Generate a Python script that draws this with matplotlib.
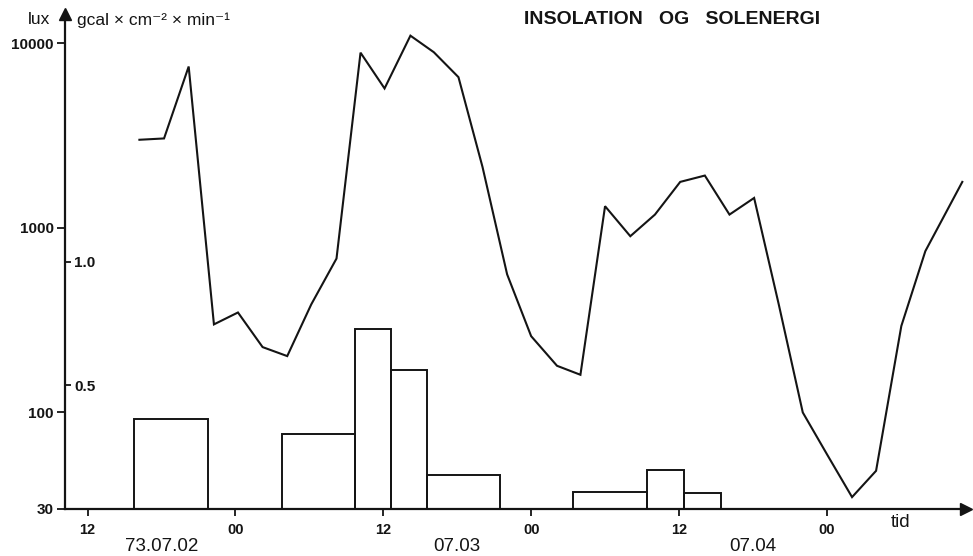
import matplotlib.pyplot as plt

# hours counted from 73.07.02 00:00
hours = [16.2, 18.2, 20.2, 22.25, 24.2, 26.2, 28.2, 30.15, 32.2, 34.15, 36.1,
         38.2, 40.1, 42.1, 44.05, 46.05, 48, 50.1, 52, 54, 56.05, 58.05, 60.1,
         62.1, 64.1, 66.1, 68.1, 70.05, 72.05, 74.05, 76, 78.05, 80, 83]
lux = [3000, 3050, 7480, 300, 348, 226, 202, 385, 682, 8890, 5690, 10990,
       8940, 6550, 2140, 560, 259, 179, 160, 1310, 901, 1180, 1774, 1920,
       1180, 1452, 385, 100, 58.8, 34.8, 48.3, 294, 748, 1774]

# radiation bars (gcal x cm-2 x min-1)
bar_start = [15.75, 27.75, 33.7, 36.6, 39.55, 51.4, 57.4, 60.4]
bar_end = [21.8, 33.7, 36.6, 39.55, 45.5, 57.4, 60.4, 63.4]
bar_val = [0.363, 0.302, 0.728, 0.563, 0.138, 0.068, 0.157, 0.064]

xtick_pos = [12, 24, 36, 48, 60, 72]
xtick_lab = ["12", "00", "12", "00", "12", "00"]
ytick_lux = [30, 100, 1000, 10000]
ytick_cal = [0.5, 1.0]
dates = [(18, "73.07.02"), (42, "07.03"), (66, "07.04")]

plt.rcParams["font.family"] = ["Liberation Sans", "DejaVu Sans"]
ink = "#141414"

W, H = 973, 556
fig = plt.figure(figsize=(W / 100, H / 100), dpi=100)
ax = fig.add_axes([65 / W, 47 / H, (966 - 65) / W, (509 - 14) / H])

ax.plot(hours, lux, color=ink, lw=1.5, solid_joinstyle="miter")
ax.set_yscale("log")
ax.set_xlim(10.16, 83.3)
ax.set_ylim(30, 14400)
ax.set_yticks(ytick_lux)
ax.set_yticklabels([str(v) for v in ytick_lux], fontweight="bold", fontsize=11)
ax.yaxis.set_minor_locator(plt.NullLocator())
ax.set_xticks(xtick_pos)
ax.set_xticklabels(xtick_lab, fontweight="bold", fontsize=10.5)
ax.tick_params(axis="y", direction="out", length=6, width=1.3, pad=2, colors=ink)
ax.tick_params(axis="x", direction="out", length=5, width=1.3, pad=5, colors=ink)
for s in ("top", "right"):
    ax.spines[s].set_visible(False)
for s in ("left", "bottom"):
    ax.spines[s].set_linewidth(1.6)
    ax.spines[s].set_color(ink)

# arrow heads on the axes
ax.plot(1, 0, marker=">", ms=8, color=ink, transform=ax.transAxes, clip_on=False)
ax.plot(0, 1, marker="^", ms=9, color=ink, transform=ax.transAxes, clip_on=False)

ax2 = ax.twinx()
widths = [e - s for s, e in zip(bar_start, bar_end)]
ax2.bar(bar_start, bar_val, width=widths, align="edge", fill=False,
        edgecolor=ink, lw=1.4)
ax2.set_ylim(0, 2.004)
ax2.yaxis.set_ticks_position("left")
ax2.set_yticks(ytick_cal)
ax2.set_yticklabels(["0.5", "1.0"], fontweight="bold", fontsize=11)
ax2.tick_params(axis="y", direction="in", length=4, width=1.3, pad=-22, colors=ink)
for s in ax2.spines.values():
    s.set_visible(False)

for t, lab in dates:
    ax.text(t, -0.075, lab, transform=ax.get_xaxis_transform(), ha="center",
            va="center", fontsize=13.5, color=ink)
ax.text(77.2, -0.028, "tid", transform=ax.get_xaxis_transform(), ha="left",
        va="center", fontsize=13.5, color=ink)

fig.text(28 / W, 1 - 20 / H, "lux", fontsize=12.5, va="center", color=ink)
fig.text(77 / W, 1 - 20 / H, "gcal × cm⁻² × min⁻¹", fontsize=12.5, va="center",
         color=ink)
fig.text(672 / W, 1 - 20 / H, "INSOLATION   OG   SOLENERGI", fontsize=14,
         fontweight="bold", ha="center", va="center", color=ink)

fig.savefig("out.png", dpi=100)
